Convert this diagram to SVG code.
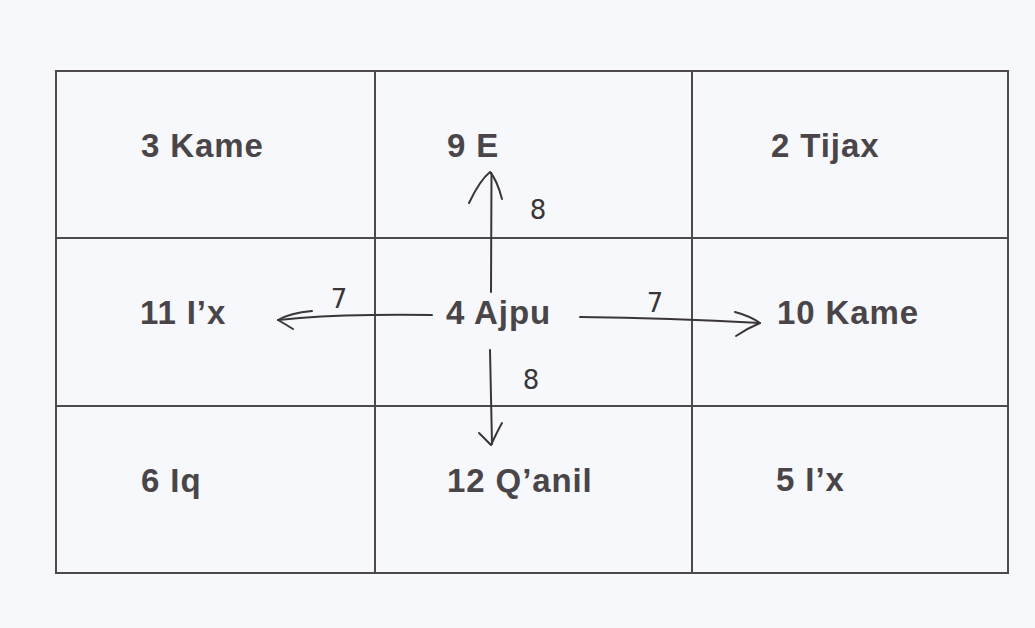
<svg xmlns="http://www.w3.org/2000/svg" width="1035" height="628" viewBox="0 0 1035 628">
<style>
.bg{fill:#f7f8fb}
.cell{fill:none;stroke:#4e4a4c;stroke-width:2}
.lbl{font-family:"Liberation Sans",Arial,sans-serif;font-weight:bold;font-size:33px;fill:#4a4548;letter-spacing:0.9px}
.hand{fill:none;stroke:#3a3638;stroke-width:2;stroke-linecap:round;stroke-linejoin:round}
.num{font-family:"DejaVu Sans",sans-serif;font-size:26px;fill:#3a3638;text-anchor:middle}
</style>
<rect class="bg" x="0" y="0" width="1035" height="628"/>
<g id="grid">
<rect class="cell" x="56" y="71" width="952" height="502"/>
<line class="cell" x1="375" y1="71" x2="375" y2="573"/>
<line class="cell" x1="692" y1="71" x2="692" y2="573"/>
<line class="cell" x1="56" y1="238" x2="1008" y2="238"/>
<line class="cell" x1="56" y1="406" x2="1008" y2="406"/>
</g>
<g id="n-3kame"><text class="lbl" x="141" y="157">3 Kame</text></g>
<g id="n-9e"><text class="lbl" x="447" y="157">9 E</text></g>
<g id="n-2tijax"><text class="lbl" x="771" y="157">2 Tijax</text></g>
<g id="n-11ix"><text class="lbl" x="140" y="324">11 I’x</text></g>
<g id="n-4ajpu"><text class="lbl" x="446" y="324">4 Ajpu</text></g>
<g id="n-10kame"><text class="lbl" x="777" y="324">10 Kame</text></g>
<g id="n-6iq"><text class="lbl" x="141" y="492">6 Iq</text></g>
<g id="n-12qanil"><text class="lbl" x="447" y="492">12 Q’anil</text></g>
<g id="n-5ix"><text class="lbl" x="776" y="491">5 I’x</text></g>
<g id="connectors">
<path class="hand" d="M491 292 L491.5 173"/>
<path class="hand" d="M469 203 Q480 180 490 172 Q497 180 502 199"/>
<path class="hand" d="M432 315 Q350 314 300 318 L278 320"/>
<path class="hand" d="M312 311 Q290 313 278 320 Q285 324 293 329"/>
<path class="hand" d="M490 350 L492 444"/>
<path class="hand" d="M479 433 Q486 440 491 445 Q497 432 502 423"/>
<path class="hand" d="M580 317 Q670 318 760 323"/>
<path class="hand" d="M735 312 Q750 316 760 323 Q748 328 736 336"/>
<text class="num" x="538" y="219">8</text>
<text class="num" x="531" y="389">8</text>
<text class="num" x="339" y="308">7</text>
<text class="num" x="655" y="312">7</text>
</g>
</svg>
